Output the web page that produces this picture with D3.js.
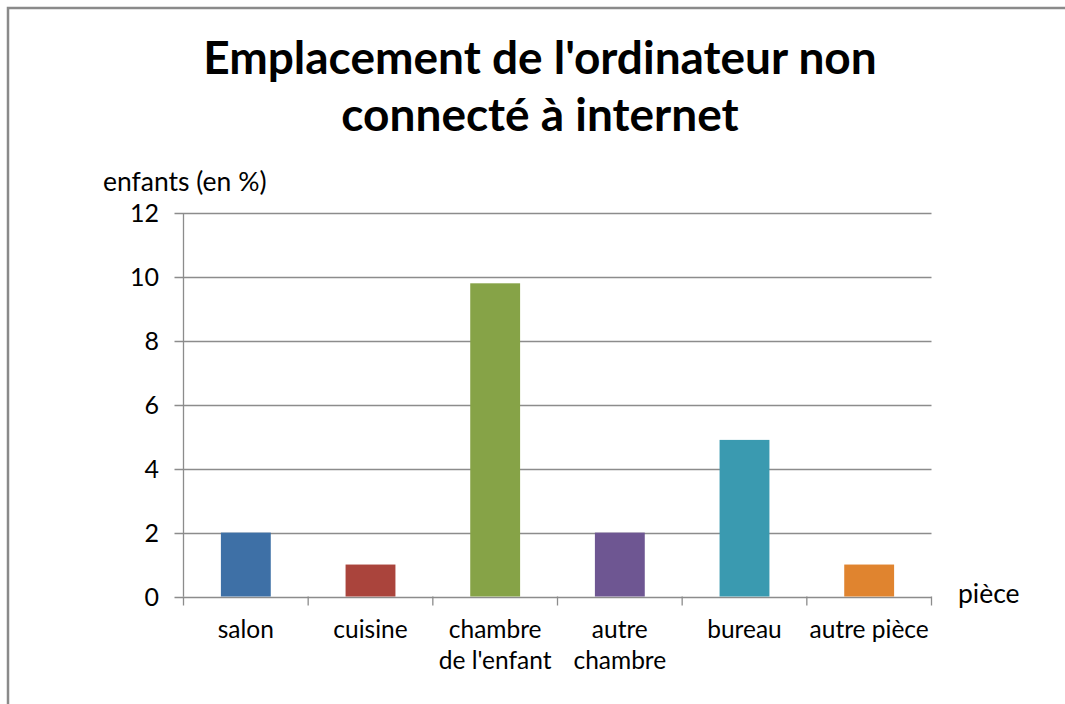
<!DOCTYPE html>
<html>
<head>
<meta charset="utf-8">
<script src="https://cdn.jsdelivr.net/npm/d3@7"></script>
<style>
  html, body { margin: 0; padding: 0; background: #fff; }
  svg { display: block; }
  text { font-family: Lato, "Open Sans", sans-serif; fill: #000; }
</style>
</head>
<body>
<svg id="chart" width="1065" height="704"></svg>
<script>
// Rooms where the non-connected computer is located
const categories = ["salon", "cuisine", "chambre\nde l'enfant", "autre\nchambre", "bureau", "autre pièce"];
const values = [2, 1, 9.8, 2, 4.9, 1];
const colors = ["#3e70a6", "#aa443c", "#86a347", "#6e5692", "#3a9ab0", "#e0842f"];
const yTicks = [0, 2, 4, 6, 8, 10, 12];
const titleLines = ["Emplacement de l'ordinateur non", "connecté à internet"];
const yTitle = "enfants (en %)";
const xTitle = "pièce";

const svg = d3.select("#chart");
const W = 1065, H = 704;
const plot = { left: 183.5, right: 931.5, top: 213, bottom: 596.5 };

// outer frame
svg.append("rect")
  .attr("x", 8).attr("y", 8).attr("width", W + 10).attr("height", H + 10)
  .attr("fill", "#fff").attr("stroke", "#8a8a8a").attr("stroke-width", 2.5);

const x = d3.scaleBand().domain(categories).range([plot.left, plot.right]).paddingInner(0).paddingOuter(0);
const y = d3.scaleLinear().domain([0, 12]).range([plot.bottom, plot.top]);

// gridlines
svg.append("g").selectAll("line").data(yTicks).join("line")
  .attr("x1", plot.left - 9).attr("x2", plot.right)
  .attr("y1", d => Math.round(y(d)) + 0.5).attr("y2", d => Math.round(y(d)) + 0.5)
  .attr("stroke", "#8c8c8c").attr("stroke-width", 1.3);

// bars
const bw = x.bandwidth() * 0.4;
svg.append("g").selectAll("rect").data(values).join("rect")
  .attr("x", (d, i) => x(categories[i]) + (x.bandwidth() - bw) / 2)
  .attr("width", bw)
  .attr("y", d => y(d))
  .attr("height", d => y(0) - y(d))
  .attr("fill", (d, i) => colors[i]);

// y axis line
svg.append("line")
  .attr("x1", plot.left).attr("x2", plot.left)
  .attr("y1", plot.top).attr("y2", plot.bottom)
  .attr("stroke", "#8c8c8c").attr("stroke-width", 1.3);

// x axis tick marks at band boundaries
const bounds = categories.map(c => x(c)).concat([plot.right]);
svg.append("g").selectAll("line").data(bounds).join("line")
  .attr("x1", d => d).attr("x2", d => d)
  .attr("y1", plot.bottom).attr("y2", plot.bottom + 9)
  .attr("stroke", "#8c8c8c").attr("stroke-width", 1.3);

// y tick labels
svg.append("g").selectAll("text").data(yTicks).join("text")
  .attr("x", 159).attr("y", d => y(d))
  .attr("dy", "0.36em")
  .attr("text-anchor", "end")
  .attr("font-size", 25)
  .text(d => d);

// category labels
categories.forEach(c => {
  const lines = c.split("\n");
  const t = svg.append("text")
    .attr("x", x(c) + x.bandwidth() / 2)
    .attr("y", 638)
    .attr("text-anchor", "middle")
    .attr("font-size", 24.5);
  lines.forEach((l, i) => {
    t.append("tspan").attr("x", x(c) + x.bandwidth() / 2).attr("dy", i === 0 ? 0 : 31).text(l);
  });
});

// axis titles
svg.append("text").attr("x", 103).attr("y", 191).attr("font-size", 26.5).text(yTitle);
svg.append("text").attr("x", 958).attr("y", 603).attr("font-size", 26.5).text(xTitle);

// chart title
titleLines.forEach((l, i) => {
  svg.append("text")
    .attr("x", 540).attr("y", 74 + i * 57)
    .attr("text-anchor", "middle")
    .attr("font-size", 46)
    .attr("font-weight", "bold")
    .text(l);
});
</script>
</body>
</html>
